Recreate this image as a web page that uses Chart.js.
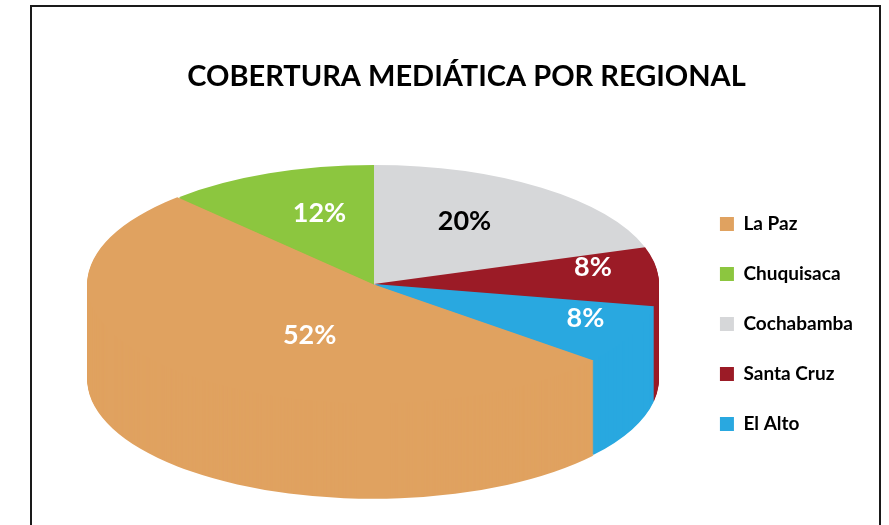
<!DOCTYPE html>
<html>
<head>
<meta charset="utf-8">
<script src="https://cdn.jsdelivr.net/npm/chart.js@4.4.0/dist/chart.umd.min.js"></script>
<style>
  html, body { margin: 0; padding: 0; background: #fff; }
  #wrap { width: 889px; height: 525px; }
</style>
</head>
<body>
<div id="wrap"><canvas id="cobertura"></canvas></div>
<script>
const regiones = ['La Paz', 'Chuquisaca', 'Cochabamba', 'Santa Cruz', 'El Alto'];
const porcentajes = [52, 12, 20, 8, 8];
const colores = ['#E0A260', '#8CC63F', '#D6D7D9', '#9B1B26', '#29A8E0'];
const coloresTexto = ['#fff', '#fff', '#000', '#fff', '#fff'];

Chart.defaults.font.family = 'Lato';

// pastel inclinado: elipse + grosor, con los porcentajes encima
const pastel3d = {
  id: 'pastel3d',
  beforeDraw(chart) {
    const ctx = chart.ctx;
    ctx.save();
    ctx.lineWidth = 2;
    ctx.strokeStyle = '#1a1a1a';
    ctx.strokeRect(31, 6, 849, 600);
    ctx.restore();
  },
  beforeDatasetsDraw(chart, args, opts) {
    const ctx = chart.ctx;
    const arcs = chart.getDatasetMeta(0).data;
    const {x, y, outerRadius: r} = arcs[0];
    ctx.save();
    ctx.translate(opts.cx, opts.cy);
    ctx.scale(opts.rx / r, opts.ry / r);
    ctx.translate(-x, -y);
    // copias desplazadas hacia abajo = canto del pastel
    for (let d = opts.depth; d > 0; d--) {
      ctx.save();
      ctx.translate(0, d * r / opts.ry);
      arcs.forEach(a => a.draw(ctx));
      ctx.restore();
    }
  },
  afterDatasetsDraw(chart, args, opts) {
    const ctx = chart.ctx;
    ctx.restore();
    const arcs = chart.getDatasetMeta(0).data;
    ctx.save();
    ctx.font = 'bold 27px Lato';
    ctx.textAlign = 'center';
    ctx.textBaseline = 'middle';
    arcs.forEach((a, i) => {
      const mid = (a.startAngle + a.endAngle) / 2;
      ctx.fillStyle = coloresTexto[i];
      ctx.fillText(porcentajes[i] + '%',
        opts.cx + Math.cos(mid) * opts.labelFx[i] * opts.rx,
        opts.cy + Math.sin(mid) * opts.labelFy[i] * opts.ry);
    });
    ctx.restore();
  }
};

new Chart(document.getElementById('cobertura'), {
  type: 'pie',
  data: {
    labels: regiones,
    datasets: [{
      data: porcentajes,
      backgroundColor: colores,
      borderWidth: 0,
      offset: [3, 0, 0, 0, 0],
      clip: false
    }]
  },
  options: {
    responsive: true,
    maintainAspectRatio: false,
    animation: false,
    rotation: 360 * (1 - (porcentajes[0] + porcentajes[1]) / 100),
    layout: { padding: { left: 70, right: 26, top: 0, bottom: 0 } },
    plugins: {
      title: {
        display: true,
        text: 'COBERTURA MEDIÁTICA POR REGIONAL',
        color: '#000',
        font: { size: 29, weight: 'bold' },
        padding: { top: 59, bottom: 29 }
      },
      legend: {
        position: 'right',
        fullSize: false,
        labels: {
          color: '#000',
          font: { size: 19, weight: 'bold' },
          boxWidth: 14,
          boxHeight: 14,
          padding: 31
        }
      },
      tooltip: { enabled: false },
      pastel3d: {
        cx: 374, cy: 284, rx: 285, ry: 119, depth: 95,
        labelFx: [0.33, 0.52, 0.54, 0.77, 0.82],
        labelFy: [0.59, 0.64, 0.65, 2.2, 0.68]
      }
    }
  },
  plugins: [pastel3d]
});
</script>
</body>
</html>
